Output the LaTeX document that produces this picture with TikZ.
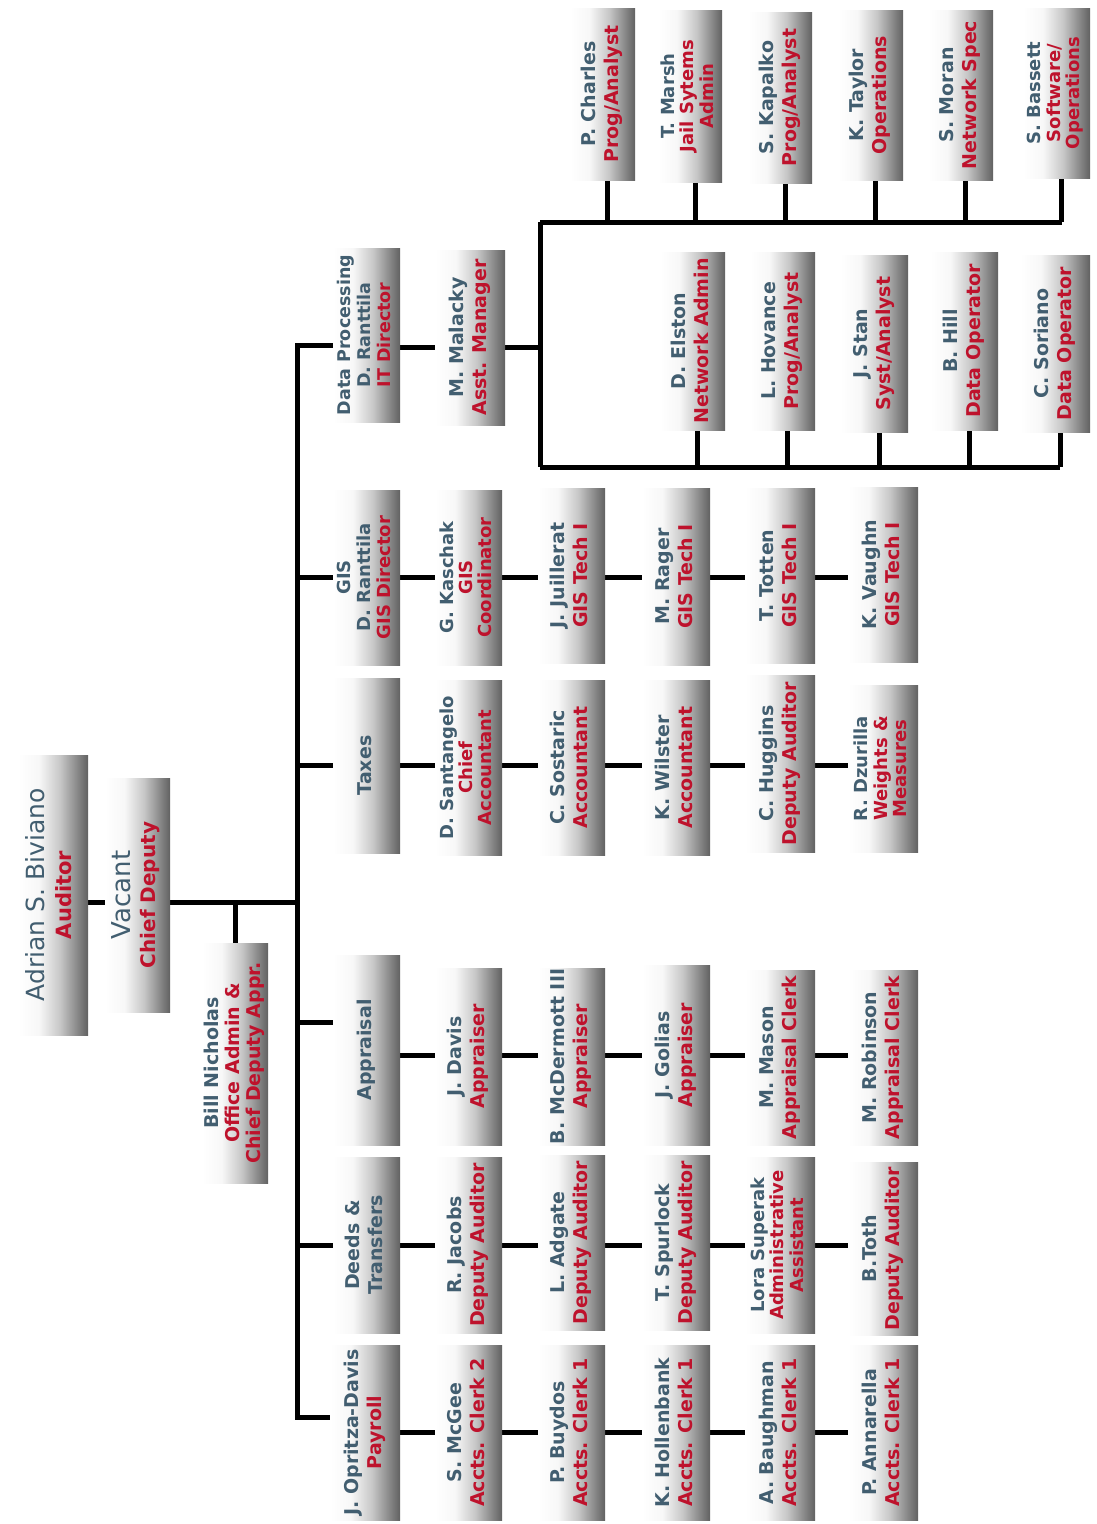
\documentclass[tikz,border=0pt]{standalone}
\usepackage{fontspec}
\usepackage{graphicx}
\setmainfont{DejaVu Sans}
\definecolor{nm}{RGB}{66,94,112}
\definecolor{rl}{RGB}{190,18,44}
\pgfdeclarehorizontalshading{boxshade}{100bp}{color(0bp)=(white); color(25bp)=(white); color(40bp)=(black!3); color(55bp)=(black!22); color(68bp)=(black!48); color(75bp)=(black!62); color(100bp)=(black!62)}
\pgfdeclarelayer{bg}
\pgfsetlayers{bg,main}
\newcommand\Nb[1]{{\color{nm}\bfseries #1}}
\newcommand\Nr[1]{{\color{nm}#1}}
\newcommand\Rd[1]{{\color{rl}\bfseries #1}}
\newcommand\Tx[3]{\rotatebox{90}{\makebox[0pt]{\fontsize{#1}{#2}\selectfont\begin{tabular}{@{}c@{}}#3\end{tabular}}}}
\newcommand\bx[6]{\node[orgbox, minimum width={#3pt-#2pt}, minimum height={#5pt-#4pt}] (#1) at ({(#2+#3)/2},{(#4+#5)/2}) {#6};}
\tikzset{
  orgbox/.style={rectangle, inner sep=0pt, shading=boxshade, draw=none},
  ln/.style={line width=5pt, line join=miter, line cap=butt, black},
}
\begin{document}
\begin{tikzpicture}[x=1pt,y=-1pt]
\useasboundingbox (0,0) rectangle (1097,1524);
% ---- top
\bx{adrian}{18}{88}{755}{1035}{\Tx{25}{27}{\Nr{Adrian S. Biviano}\\\Rd{\fontsize{21}{27}\selectfont Auditor}}}
\bx{vacant}{105}{170}{778}{1012}{\Tx{26}{25}{\Nr{Vacant}\\\Rd{\fontsize{20}{25}\selectfont Chief Deputy}}}
\bx{bill}{202}{268}{943}{1183}{\Tx{19}{21}{\Nb{Bill Nicholas}\\\Rd{Office Admin \&}\\\Rd{Chief Deputy Appr.}}}
% ---- column 0
\bx{dp}{333}{400}{248}{422}{\Tx{17.5}{20}{\Nb{Data Processing}\\\Nb{D. Ranttila}\\\Rd{IT Director}}}
\bx{gis}{333}{400}{490}{665}{\Tx{18}{20}{\Nb{GIS}\\\Nb{D. Ranttila}\\\Rd{GIS Director}}}
\bx{tax}{333}{400}{678}{853}{\Tx{19}{23}{\Nb{Taxes}}}
\bx{app}{333}{400}{955}{1145}{\Tx{19}{23}{\Nb{Appraisal}}}
\bx{dee}{333}{400}{1157}{1333}{\Tx{19}{23}{\Nb{Deeds \&}\\\Nb{Transfers}}}
\bx{opr}{330}{400}{1345}{1520}{\Tx{19}{23}{\Nb{J. Opritza-Davis}\\\Rd{Payroll}}}
% ---- column 1
\bx{mal}{435}{505}{250}{425}{\Tx{19}{23}{\Nb{M. Malacky}\\\Rd{Asst. Manager}}}
\bx{kas}{435}{502}{490}{665}{\Tx{18}{19}{\Nb{G. Kaschak}\\\Rd{GIS}\\\Rd{Coordinator}}}
\bx{san}{435}{502}{680}{855}{\Tx{18}{19}{\Nb{D. Santangelo}\\\Rd{Chief}\\\Rd{Accountant}}}
\bx{jda}{435}{502}{968}{1145}{\Tx{19}{23}{\Nb{J. Davis}\\\Rd{Appraiser}}}
\bx{rja}{435}{502}{1157}{1333}{\Tx{19}{23}{\Nb{R. Jacobs}\\\Rd{Deputy Auditor}}}
\bx{mcg}{435}{502}{1345}{1520}{\Tx{19}{23}{\Nb{S. McGee}\\\Rd{Accts. Clerk 2}}}
% ---- column 2
\bx{jui}{538}{605}{488}{663}{\Tx{19}{23}{\Nb{J. Juillerat}\\\Rd{GIS Tech I}}}
\bx{sos}{538}{605}{680}{855}{\Tx{19}{23}{\Nb{C. Sostaric}\\\Rd{Accountant}}}
\bx{mcd}{538}{605}{968}{1145}{\Tx{19}{23}{\Nb{B. McDermott III}\\\Rd{Appraiser}}}
\bx{adg}{538}{605}{1155}{1330}{\Tx{19}{23}{\Nb{L. Adgate}\\\Rd{Deputy Auditor}}}
\bx{buy}{538}{605}{1345}{1520}{\Tx{19}{23}{\Nb{P. Buydos}\\\Rd{Accts. Clerk 1}}}
% ---- column 3
\bx{rag}{642}{710}{488}{665}{\Tx{19}{23}{\Nb{M. Rager}\\\Rd{GIS Tech I}}}
\bx{wil}{642}{710}{680}{855}{\Tx{19}{23}{\Nb{K. Wilster}\\\Rd{Accountant}}}
\bx{gol}{642}{710}{965}{1145}{\Tx{19}{23}{\Nb{J. Golias}\\\Rd{Appraiser}}}
\bx{spu}{642}{710}{1155}{1330}{\Tx{19}{23}{\Nb{T. Spurlock}\\\Rd{Deputy Auditor}}}
\bx{hol}{642}{710}{1345}{1520}{\Tx{19}{23}{\Nb{K. Hollenbank}\\\Rd{Accts. Clerk 1}}}
% ---- column 4
\bx{tot}{745}{815}{488}{663}{\Tx{19}{23}{\Nb{T. Totten}\\\Rd{GIS Tech I}}}
\bx{hug}{745}{815}{675}{852}{\Tx{19}{23}{\Nb{C. Huggins}\\\Rd{Deputy Auditor}}}
\bx{mas}{745}{815}{970}{1145}{\Tx{19}{23}{\Nb{M. Mason}\\\Rd{Appraisal Clerk}}}
\bx{sup}{745}{815}{1157}{1333}{\Tx{18}{19}{\Nb{Lora Superak}\\\Rd{Administrative}\\\Rd{Assistant}}}
\bx{bau}{745}{815}{1345}{1520}{\Tx{19}{23}{\Nb{A. Baughman}\\\Rd{Accts. Clerk 1}}}
% ---- column 5
\bx{vau}{848}{918}{487}{662}{\Tx{19}{23}{\Nb{K. Vaughn}\\\Rd{GIS Tech I}}}
\bx{dzu}{848}{918}{685}{852}{\Tx{18}{19}{\Nb{R. Dzurilla}\\\Rd{Weights \&}\\\Rd{Measures}}}
\bx{rob}{848}{918}{970}{1145}{\Tx{19}{23}{\Nb{M. Robinson}\\\Rd{Appraisal Clerk}}}
\bx{tth}{848}{918}{1162}{1335}{\Tx{19}{23}{\Nb{B.Toth}\\\Rd{Deputy Auditor}}}
\bx{ann}{848}{918}{1345}{1520}{\Tx{19}{23}{\Nb{P. Annarella}\\\Rd{Accts. Clerk 1}}}
% ---- data processing staff, top row
\bx{pch}{570}{635}{8}{180}{\Tx{19}{23}{\Nb{P. Charles}\\\Rd{Prog/Analyst}}}
\bx{mar}{658}{722}{10}{182}{\Tx{18}{19}{\Nb{T. Marsh}\\\Rd{Jail Sytems}\\\Rd{Admin}}}
\bx{kap}{748}{812}{12}{183}{\Tx{19}{23}{\Nb{S. Kapalko}\\\Rd{Prog/Analyst}}}
\bx{tay}{838}{903}{10}{180}{\Tx{19}{23}{\Nb{K. Taylor}\\\Rd{Operations}}}
\bx{mor}{928}{993}{10}{180}{\Tx{19}{23}{\Nb{S. Moran}\\\Rd{Network Spec}}}
\bx{bas}{1023}{1090}{8}{178}{\Tx{18}{19}{\Nb{S. Bassett}\\\Rd{Software/}\\\Rd{Operations}}}
% ---- data processing staff, bottom row
\bx{els}{660}{725}{252}{430}{\Tx{19}{23}{\Nb{D. Elston}\\\Rd{Network Admin}}}
\bx{hov}{750}{815}{252}{430}{\Tx{19}{23}{\Nb{L. Hovance}\\\Rd{Prog/Analyst}}}
\bx{sta}{840}{908}{255}{432}{\Tx{19}{23}{\Nb{J. Stan}\\\Rd{Syst/Analyst}}}
\bx{hil}{930}{998}{252}{430}{\Tx{19}{23}{\Nb{B. Hill}\\\Rd{Data Operator}}}
\bx{sor}{1020}{1090}{255}{432}{\Tx{19}{23}{\Nb{C. Soriano}\\\Rd{Data Operator}}}
% ---- junctions
\coordinate (j0) at (297,902);
\coordinate (btop) at (297,345);
\coordinate (bbot) at (297,1417);
\coordinate (ja) at (297,1022);
\coordinate (rA) at (0,1055);
\coordinate (rP) at (0,1432);
\coordinate (bm) at (540,347);
\coordinate (bt) at (540,222);
\coordinate (bb) at (540,467);
\begin{pgfonlayer}{bg}
\fill[white] (0,0) rectangle (1097,1524);
\draw[ln] (adrian.east |- j0) -- (vacant.west |- j0);
\draw[ln] (vacant.east |- j0) -- (j0);
\draw[ln] (bill.north) -- (bill.north |- j0);
\draw[ln] (dp.west |- btop) -- (btop) -- (bbot) -- (opr.west |- bbot);
\draw[ln] (gis.west) -- (gis.west -| btop);
\draw[ln] (tax.west) -- (tax.west -| btop);
\draw[ln] (app.west |- ja) -- (ja);
\draw[ln] (dee.west) -- (dee.west -| btop);
% rows
\draw[ln] (dp.east |- bm) -- (mal.west |- bm);
\draw[ln] (mal.east |- bm) -- (bm);
\foreach \a/\b in {gis/kas,kas/jui,jui/rag,rag/tot,tot/vau}
  \draw[ln] (\a.east |- gis.center) -- (\b.west |- gis.center);
\foreach \a/\b in {tax/san,san/sos,sos/wil,wil/hug,hug/dzu}
  \draw[ln] (\a.east |- tax.center) -- (\b.west |- tax.center);
\foreach \a/\b in {app/jda,jda/mcd,mcd/gol,gol/mas,mas/rob}
  \draw[ln] (\a.east |- rA) -- (\b.west |- rA);
\foreach \a/\b in {dee/rja,rja/adg,adg/spu,spu/sup,sup/tth}
  \draw[ln] (\a.east |- dee.center) -- (\b.west |- dee.center);
\foreach \a/\b in {opr/mcg,mcg/buy,buy/hol,hol/bau,bau/ann}
  \draw[ln] (\a.east |- rP) -- (\b.west |- rP);
% data processing bracket
\draw[ln] (bt) -- (bb);
\draw[ln] (bt) -- ([xshift=5pt]bas.south |- bt);
\foreach \n in {pch,mar,kap,tay,mor,bas}
  \draw[ln] ([xshift=5pt]\n.south) -- ([xshift=5pt]\n.south |- bt);
\draw[ln] (bb) -- ([xshift=5pt]sor.south |- bb);
\foreach \n in {els,hov,sta,hil,sor}
  \draw[ln] ([xshift=5pt]\n.south) -- ([xshift=5pt]\n.south |- bb);
\end{pgfonlayer}
\end{tikzpicture}
\end{document}
